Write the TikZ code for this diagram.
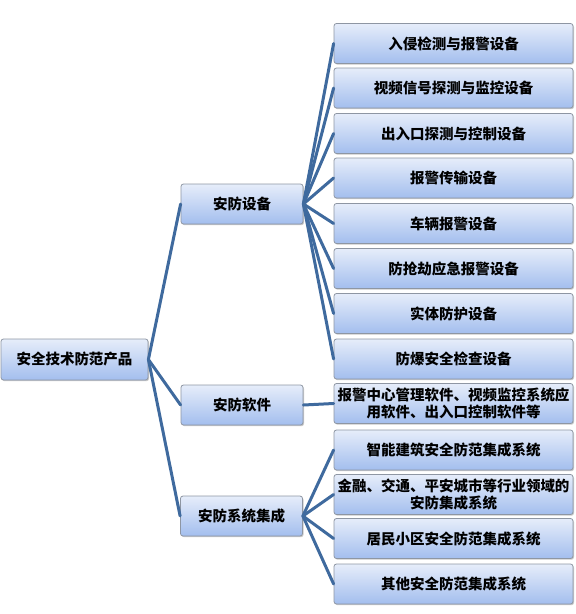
\documentclass[tikz,border=0pt]{standalone}
\usepackage{fontspec}
\setmainfont{Noto Sans CJK SC}
\usetikzlibrary{shadows}
\definecolor{boxtop}{HTML}{E6EDFA}
\definecolor{boxbot}{HTML}{A3BEEE}
\definecolor{boxline}{HTML}{8E96A3}
\definecolor{link}{HTML}{3F6A9E}
\tikzset{
  box/.style={draw=boxline, line width=0.8pt, rounded corners=2.5pt,
    top color=boxtop, bottom color=boxbot, inner sep=0pt,
    minimum height=40pt, align=center,
    font=\fontsize{14.5}{17}\selectfont\bfseries,
    drop shadow={shadow xshift=1pt, shadow yshift=-1.2pt, opacity=0.35, fill=black!60}},
  twoline/.style={font=\fontsize{14.5}{16.5}\selectfont\bfseries},
  rootbox/.style={box, minimum width=147pt, minimum height=41pt},
  midbox/.style={box, minimum width=122pt},
  leafbox/.style={box, minimum width=239pt},
  conn/.style={draw=link, line width=3pt, line cap=round}
}
\begin{document}
\begin{tikzpicture}[x=1pt,y=-1pt]
\useasboundingbox (0,0) rectangle (576,614);
% root
\node[rootbox] (root) at (74.5,359.5) {安全技术防范产品};
% middle
\node[midbox] (m1) at (242,204) {安防设备};
\node[midbox] (m2) at (242,405) {安防软件};
\node[midbox] (m3) at (241.5,516) {安防系统集成};
% leaves
\node[leafbox] (a1) at (453.5,43.5) {入侵检测与报警设备};
\node[leafbox] (a2) at (453.5,88) {视频信号探测与监控设备};
\node[leafbox] (a3) at (453.5,133.5) {出入口探测与控制设备};
\node[leafbox] (a4) at (453.5,178) {报警传输设备};
\node[leafbox] (a5) at (453.5,223.5) {车辆报警设备};
\node[leafbox] (a6) at (453.5,268.5) {防抢劫应急报警设备};
\node[leafbox] (a7) at (453.5,313.5) {实体防护设备};
\node[leafbox] (a8) at (453.5,359) {防爆安全检查设备};
\node[leafbox, twoline] (b1) at (453.5,403.5) {报警中心管理软件、视频监控系统应\\用软件、出入口控制软件等};
\node[leafbox] (c1) at (453.5,450) {智能建筑安全防范集成系统};
\node[leafbox, twoline] (c2) at (453.5,494.5) {金融、交通、平安城市等行业领域的\\安防集成系统};
\node[leafbox] (c3) at (453.5,538.5) {居民小区安全防范集成系统};
\node[leafbox] (c4) at (453.5,584) {其他安全防范集成系统};
% connectors
\foreach \m in {m1,m2,m3} \draw[conn] (root.east) -- (\m.west);
\foreach \l in {a1,a2,a3,a4,a5,a6,a7,a8} \draw[conn] (m1.east) -- (\l.west);
\draw[conn] (m2.east) -- (b1.west);
\foreach \l in {c1,c2,c3,c4} \draw[conn] (m3.east) -- (\l.west);
\end{tikzpicture}
\end{document}
